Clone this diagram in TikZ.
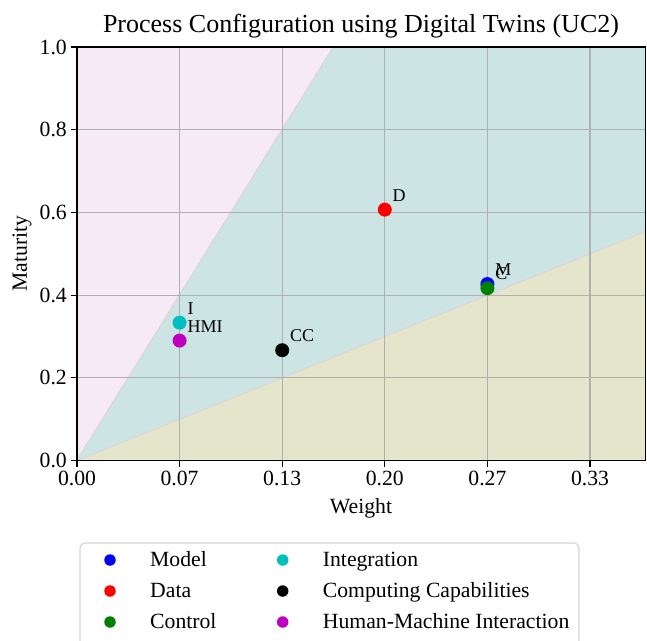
\documentclass[tikz,border=0pt]{standalone}
\usepackage{fontspec}
\setmainfont{Liberation Serif}
\definecolor{regpink}{HTML}{F5EAF6}
\definecolor{regteal}{HTML}{CCE5E4}
\definecolor{regolive}{HTML}{E5E5CB}
\definecolor{bnd}{HTML}{D9D9D9}
\definecolor{gridc}{HTML}{B0B0B0}
\definecolor{mblue}{HTML}{0000FF}
\definecolor{mred}{HTML}{FF0000}
\definecolor{mgreen}{HTML}{008000}
\definecolor{mcyan}{HTML}{00BFBF}
\definecolor{mmag}{HTML}{BF00BF}
\definecolor{legedge}{HTML}{D5D5D5}
\tikzset{
  basefont/.style={font=\fontsize{21.7}{26}\selectfont},
  ptlabel/.style={font=\fontsize{18}{21}\selectfont, anchor=base west, inner sep=0pt},
  ptdot/.style={circle, inner sep=0pt, minimum size=14pt},
  legdot/.style={circle, inner sep=0pt, minimum size=11.5pt},
  legtext/.style={basefont, anchor=base west, inner sep=0pt},
  xtick/.style={basefont, anchor=north, inner sep=0pt},
  ytick/.style={basefont, anchor=east, inner sep=0pt},
  gridline/.style={draw=gridc, line width=1.1pt},
  boundary/.style={draw=bnd, line width=1.6pt},
}
\begin{document}
\begin{tikzpicture}[x=1pt,y=-1pt]
\useasboundingbox (0,0) rectangle (647,640);
\clip (0,0) rectangle (647,640);
\fill[white] (0,0) rectangle (647,640);
% title
\node[font=\fontsize{26}{31}\selectfont, anchor=base, inner sep=0pt] (title) at (361,32.3) {Process Configuration using Digital Twins (UC2)};
% data scope
\begin{scope}[shift={(77,460.5)}, x=1539pt, y=413.5pt]
  \fill[regpink] (0,0) -- (1/6,1) -- (0,1) -- cycle;
  \fill[regteal] (0,0) -- (1/6,1) -- (0.3694,1) -- (0.3694,0.5541) -- cycle;
  \fill[regolive] (0,0) -- (0.3694,0.5541) -- (0.3694,0) -- cycle;
  \draw[boundary] (0,0) -- (1/6,1);
  \draw[boundary] (0,0) -- (0.3694,0.5541);
  % grid
  \foreach \i in {1,2,3,4,5} \draw[gridline] (\i/15,0) -- (\i/15,1);
  \foreach \j in {0.2,0.4,0.6,0.8} \draw[gridline] (0,\j) -- (0.3694,\j);
  % frame
  \draw[line width=1.1pt] (0,0) rectangle (0.3694,1);
  % ticks
  \foreach \i/\l in {0/0.00,1/0.07,2/0.13,3/0.20,4/0.27,5/0.33} {
    \draw[line width=1.1pt] (\i/15,0) -- ++(0,-6pt);
    \node[xtick] (xt\i) at ([yshift=-10pt]\i/15,0) {\l};
  }
  \foreach \j/\l in {0/0.0,1/0.2,2/0.4,3/0.6,4/0.8,5/1.0} {
    \draw[line width=1.1pt] (0,\j/5) -- ++(-6pt,0);
    \node[ytick] (yt\j) at ([xshift=-10pt]0,\j/5) {\l};
  }
  % points
  \node[ptdot, fill=mblue] (pM) at (4/15,0.4267) {};
  \node[ptlabel] (lM) at (4/15+0.005,0.4467) {M};
  \node[ptdot, fill=mred] (pD) at (0.2,0.6067) {};
  \node[ptlabel] (lD) at (0.205,0.6267) {D};
  \node[ptdot, fill=mgreen] (pC) at (4/15,0.4167) {};
  \node[ptlabel] (lC) at (4/15+0.005,0.4367) {C};
  \node[ptdot, fill=mcyan] (pI) at (1/15,0.3333) {};
  \node[ptlabel] (lI) at (1/15+0.005,0.3533) {I};
  \node[ptdot, fill=black] (pCC) at (2/15,0.2667) {};
  \node[ptlabel] (lCC) at (2/15+0.005,0.2867) {CC};
  \node[ptdot, fill=mmag] (pH) at (1/15,0.29) {};
  \node[ptlabel] (lH) at (1/15+0.005,0.31) {HMI};
\end{scope}
% axis labels
\node[basefont, anchor=base, inner sep=0pt] (xlab) at (361,513) {Weight};
\node[basefont, anchor=base, inner sep=0pt, rotate=90] (ylab) at (27,253.5) {Maturity};
% legend
\draw[legedge, fill=white, line width=1.1pt, rounded corners=5pt] (80,543) rectangle (579,660);
\node[legdot, fill=mblue] (g1) at (110,560) {};
\node[legtext] (t1) at (150,566.7) {Model};
\node[legdot, fill=mred] (g2) at (110,591) {};
\node[legtext] (t2) at (150,597.7) {Data};
\node[legdot, fill=mgreen] (g3) at (110,622) {};
\node[legtext] (t3) at (150,628.7) {Control};
\node[legdot, fill=mcyan] (g4) at (282.7,560) {};
\node[legtext] (t4) at (322.7,566.7) {Integration};
\node[legdot, fill=black] (g5) at (282.7,591) {};
\node[legtext] (t5) at (322.7,597.7) {Computing Capabilities};
\node[legdot, fill=mmag] (g6) at (282.7,622) {};
\node[legtext] (t6) at (322.7,628.7) {Human-Machine Interaction};
\end{tikzpicture}
\end{document}
